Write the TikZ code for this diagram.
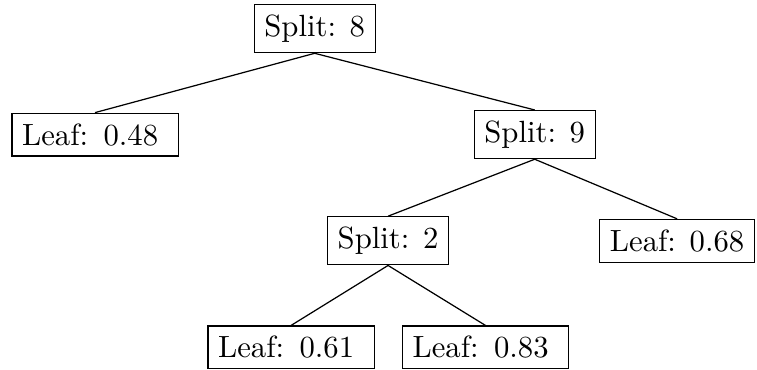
\documentclass[tikz,border=0pt]{standalone}
\begin{document}
\begin{tikzpicture}[every node/.style={draw,inner sep=3.33pt},leaf/.style={text width=47.5pt,align=left}]
\useasboundingbox (0,0) rectangle (8.667,4.236);
\node at (3.603,3.908) (s8) {Split: 8};
\node[leaf] at (1.088,2.695) (l1) {Leaf: 0.48};\node at (6.122,2.695) (s9) {Split: 9};
\node at (4.443,1.479) (s2) {Split: 2};\node at (7.752,1.479) (l2) {Leaf: 0.68};
\node[leaf] at (3.332,0.258) (l3) {Leaf: 0.61};\node[leaf] at (5.559,0.258) (l4) {Leaf: 0.83};
\draw (l1.north) -- (s8.south) -- (s9.north);
\draw (s2.north) -- (s9.south) -- (l2.north);
\draw (l3.north) -- (s2.south) -- (l4.north);
\end{tikzpicture}
\end{document}
